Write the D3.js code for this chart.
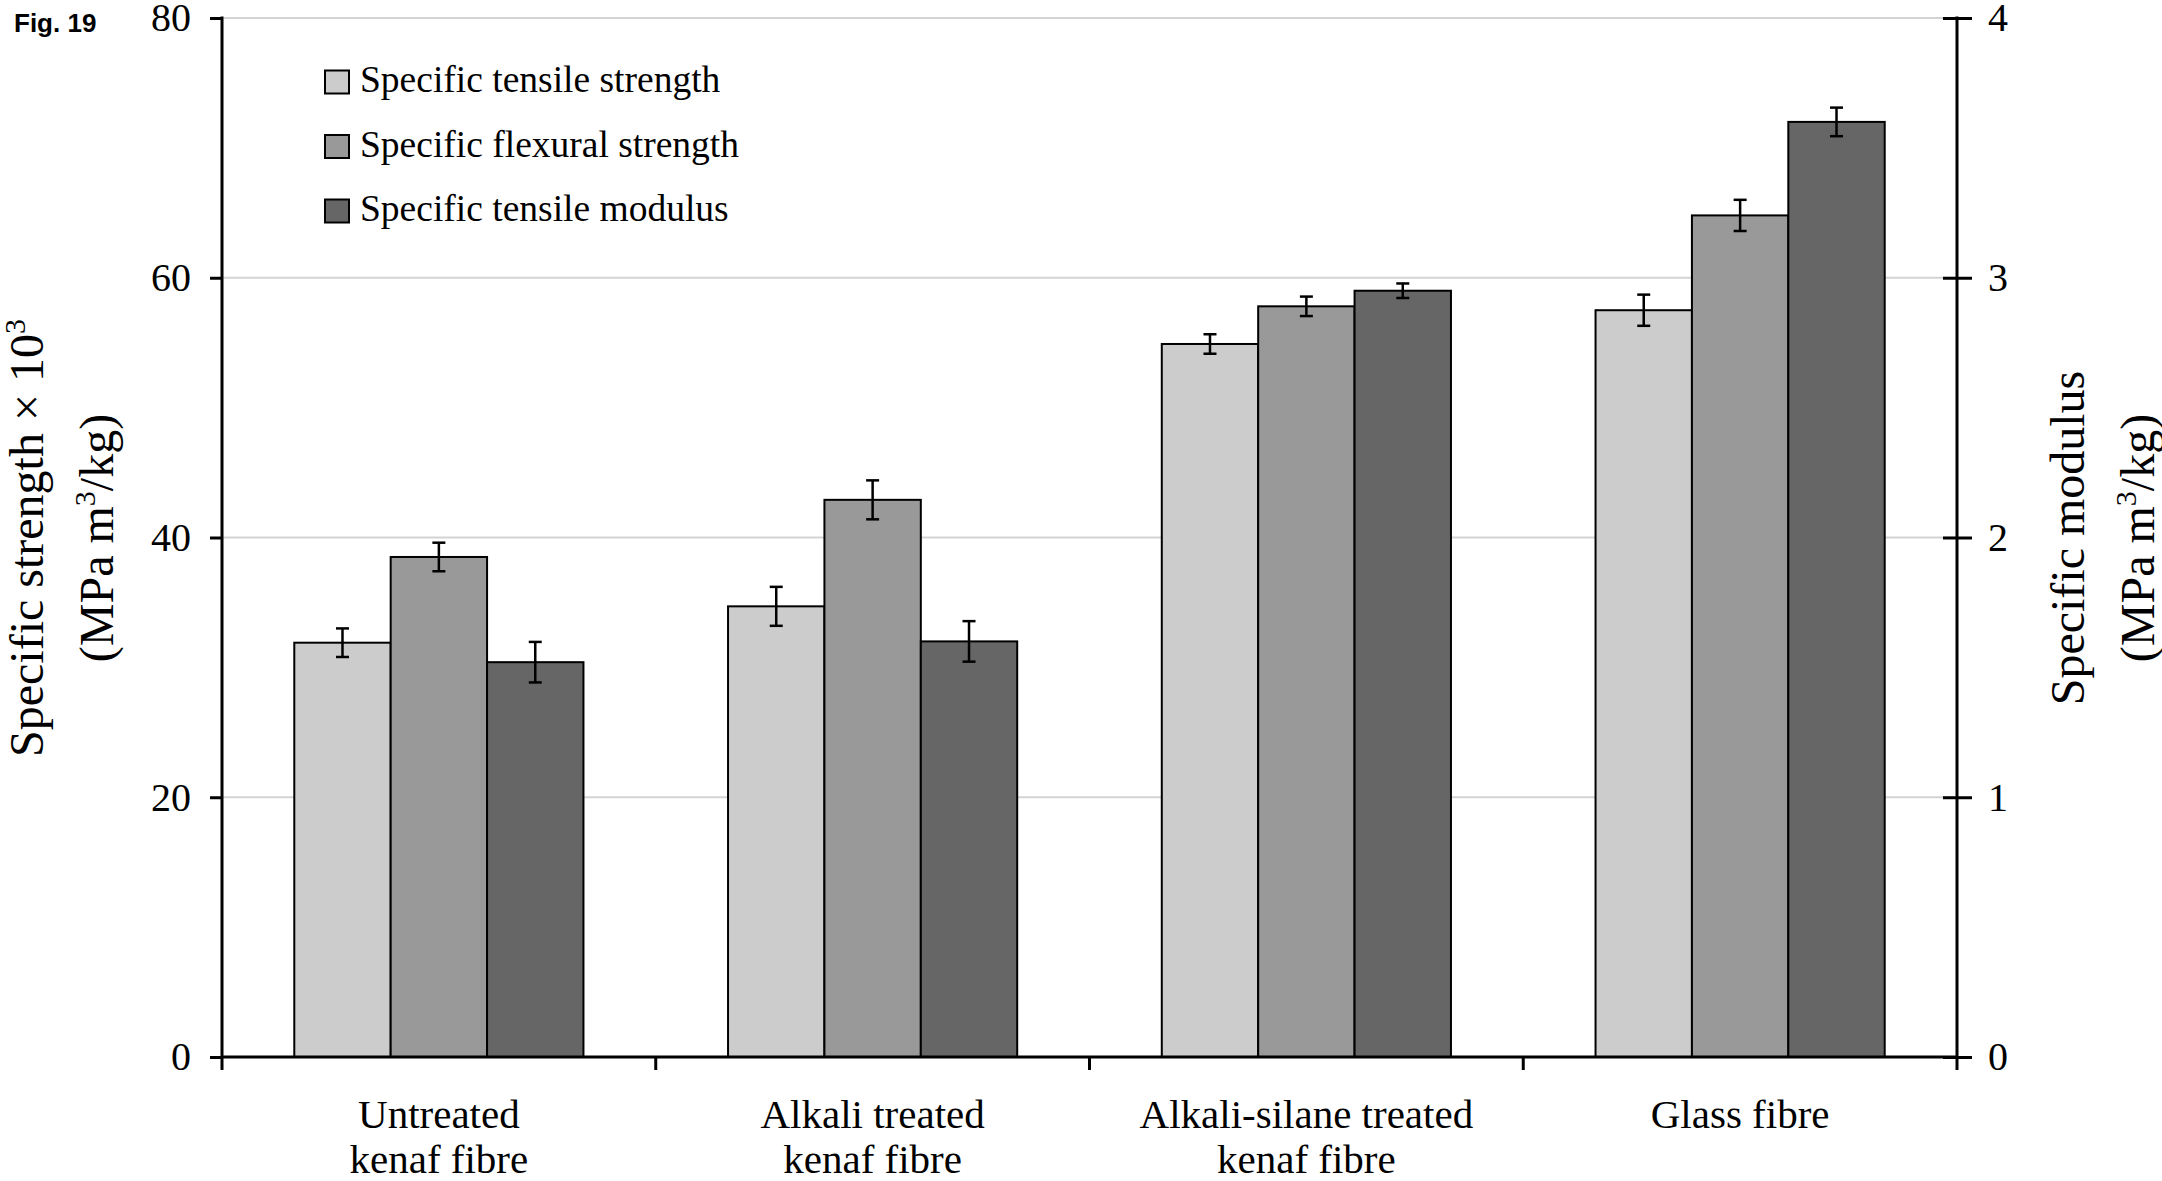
<!DOCTYPE html>
<html>
<head>
<meta charset="utf-8">
<script src="https://cdn.jsdelivr.net/npm/d3@7"></script>
<style>
  html, body { margin: 0; padding: 0; background: #fff; }
  svg { display: block; }
</style>
</head>
<body>
<svg id="chart" width="2162" height="1181"></svg>
<script>
// Fibre types (two-line labels)
const categories = ["Untreated", "Alkali treated", "Alkali-silane treated", "Glass fibre"];
const categoryLines = [
  ["Untreated", "kenaf fibre"],
  ["Alkali treated", "kenaf fibre"],
  ["Alkali-silane treated", "kenaf fibre"],
  ["Glass fibre"]
];

// Series names
const seriesNames = ["Specific tensile strength", "Specific flexural strength", "Specific tensile modulus"];
const seriesColors = ["#cccccc", "#999999", "#666666"];

// Specific strength × 10^3 (MPa m^3/kg) – left axis
const tensileStrength = [31.9, 34.7, 54.9, 57.5];
const tensileStrengthErr = [1.1, 1.5, 0.75, 1.2];
const flexuralStrength = [38.5, 42.9, 57.8, 64.8];
const flexuralStrengthErr = [1.1, 1.5, 0.75, 1.2];

// Specific modulus (MPa m^3/kg) – right axis
const tensileModulus = [1.52, 1.60, 2.95, 3.60];
const tensileModulusErr = [0.078, 0.078, 0.028, 0.055];

// Tick values
const leftTicks = [0, 20, 40, 60, 80];
const rightTicks = [0, 1, 2, 3, 4];

const svg = d3.select("#chart");
const serif = "Liberation Serif, Times New Roman, serif";

const plotLeft = 222, plotRight = 1957, plotTop = 18, plotBottom = 1057;

const x = d3.scaleBand().domain(categories).range([plotLeft, plotRight])
  .paddingInner(1 / 3).paddingOuter(1 / 6);
const xs = d3.scaleBand().domain(seriesNames).range([0, x.bandwidth()]);
const yL = d3.scaleLinear().domain([0, 80]).range([plotBottom, plotTop]);
const yR = d3.scaleLinear().domain([0, 4]).range([plotBottom, plotTop]);

// Gridlines
svg.append("g").selectAll("line").data(leftTicks.filter(d => d > 0)).join("line")
  .attr("x1", plotLeft).attr("x2", plotRight)
  .attr("y1", d => yL(d)).attr("y2", d => yL(d))
  .attr("stroke", "#d3d3d3").attr("stroke-width", 2);

// Rows of bars
const rows = categories.map((c, i) => [
  { cat: c, s: seriesNames[0], v: tensileStrength[i], e: tensileStrengthErr[i], y: yL, color: seriesColors[0] },
  { cat: c, s: seriesNames[1], v: flexuralStrength[i], e: flexuralStrengthErr[i], y: yL, color: seriesColors[1] },
  { cat: c, s: seriesNames[2], v: tensileModulus[i], e: tensileModulusErr[i], y: yR, color: seriesColors[2] }
]).flat();

svg.append("g").selectAll("rect").data(rows).join("rect")
  .attr("x", d => x(d.cat) + xs(d.s))
  .attr("width", xs.bandwidth())
  .attr("y", d => d.y(d.v))
  .attr("height", d => d.y(0) - d.y(d.v))
  .attr("fill", d => d.color)
  .attr("stroke", "#000").attr("stroke-width", 2);

// Error bars
const eg = svg.append("g").attr("stroke", "#000").attr("stroke-width", 2.5);
rows.forEach(d => {
  const cx = x(d.cat) + xs(d.s) + xs.bandwidth() / 2;
  const y1 = d.y(d.v + d.e), y2 = d.y(d.v - d.e);
  eg.append("line").attr("x1", cx).attr("x2", cx).attr("y1", y1).attr("y2", y2);
  eg.append("line").attr("x1", cx - 6.5).attr("x2", cx + 6.5).attr("y1", y1).attr("y2", y1);
  eg.append("line").attr("x1", cx - 6.5).attr("x2", cx + 6.5).attr("y1", y2).attr("y2", y2);
});

// Left axis
const axL = svg.append("g").attr("transform", `translate(${plotLeft},0)`)
  .call(d3.axisLeft(yL).tickValues(leftTicks).tickFormat(d3.format("d"))
    .tickSize(12).tickPadding(19).tickSizeOuter(0));
axL.attr("font-family", serif).attr("font-size", 40);
axL.select(".domain").remove();
axL.selectAll(".tick line").attr("stroke", "#000").attr("stroke-width", 3);
axL.selectAll(".tick text").attr("font-family", serif).attr("font-size", 40).attr("fill", "#000");
svg.append("line").attr("x1", plotLeft).attr("x2", plotLeft).attr("y1", plotTop - 1.5).attr("y2", plotBottom + 13)
  .attr("stroke", "#000").attr("stroke-width", 3);

// Right axis
const axR = svg.append("g").attr("transform", `translate(${plotRight},0)`)
  .call(d3.axisRight(yR).tickValues(rightTicks).tickFormat(d3.format("d"))
    .tickSize(15).tickPadding(16).tickSizeOuter(0));
axR.attr("font-family", serif).attr("font-size", 40);
axR.select(".domain").remove();
axR.selectAll(".tick line").attr("x1", -14).attr("stroke", "#000").attr("stroke-width", 3);
axR.selectAll(".tick text").attr("font-family", serif).attr("font-size", 40).attr("fill", "#000");
svg.append("line").attr("x1", plotRight).attr("x2", plotRight).attr("y1", plotTop - 1.5).attr("y2", plotBottom + 13)
  .attr("stroke", "#000").attr("stroke-width", 3);

// Bottom axis and category separators
svg.append("line").attr("x1", plotLeft).attr("x2", plotRight).attr("y1", plotBottom).attr("y2", plotBottom)
  .attr("stroke", "#000").attr("stroke-width", 3);
const gap = (x.step() - x.bandwidth()) / 2;
svg.append("g").selectAll("line").data(categories.slice(1)).join("line")
  .attr("x1", d => x(d) - gap).attr("x2", d => x(d) - gap)
  .attr("y1", plotBottom).attr("y2", plotBottom + 13)
  .attr("stroke", "#000").attr("stroke-width", 3);

// Category labels
categories.forEach((c, i) => {
  const t = svg.append("text")
    .attr("x", x(c) + x.bandwidth() / 2).attr("y", 1128)
    .attr("text-anchor", "middle").attr("font-family", serif).attr("font-size", 41).attr("fill", "#000");
  categoryLines[i].forEach((line, j) => {
    t.append("tspan").attr("x", x(c) + x.bandwidth() / 2).attr("dy", j === 0 ? 0 : 45).text(line);
  });
});

// Axis titles
function title(cx, cy, lines) {
  const g = svg.append("g").attr("transform", `translate(${cx},${cy}) rotate(-90)`);
  lines.forEach((parts, j) => {
    const t = g.append("text").attr("x", 0).attr("y", j * 70)
      .attr("text-anchor", "middle").attr("font-family", serif).attr("font-size", 48).attr("fill", "#000");
    parts.forEach(p => {
      if (p.sup) t.append("tspan").attr("font-size", 30).attr("dy", -18).text(p.t);
      else t.append("tspan").attr("dy", p.after ? 18 : 0).text(p.t);
    });
  });
}
title(43, 538, [
  [{ t: "Specific strength × 10" }, { t: "3", sup: true }],
  [{ t: "(MPa m" }, { t: "3", sup: true }, { t: "/kg)", after: true }]
]);
title(2084, 538, [
  [{ t: "Specific modulus" }],
  [{ t: "(MPa m" }, { t: "3", sup: true }, { t: "/kg)", after: true }]
]);

// Legend
const lg = svg.append("g");
seriesNames.forEach((s, i) => {
  const cy = 82 + i * 64.5;
  lg.append("rect").attr("x", 325).attr("y", cy - 11.5).attr("width", 24).attr("height", 23)
    .attr("fill", seriesColors[i]).attr("stroke", "#000").attr("stroke-width", 2);
  lg.append("text").attr("x", 360).attr("y", cy + 10)
    .attr("font-family", serif).attr("font-size", 37.5).attr("fill", "#000").text(s);
});

// Figure tag
svg.append("text").attr("x", 14).attr("y", 32)
  .attr("font-family", "Liberation Sans, Arial, sans-serif").attr("font-weight", "bold")
  .attr("font-size", 26).attr("fill", "#000").text("Fig. 19");
</script>
</body>
</html>
